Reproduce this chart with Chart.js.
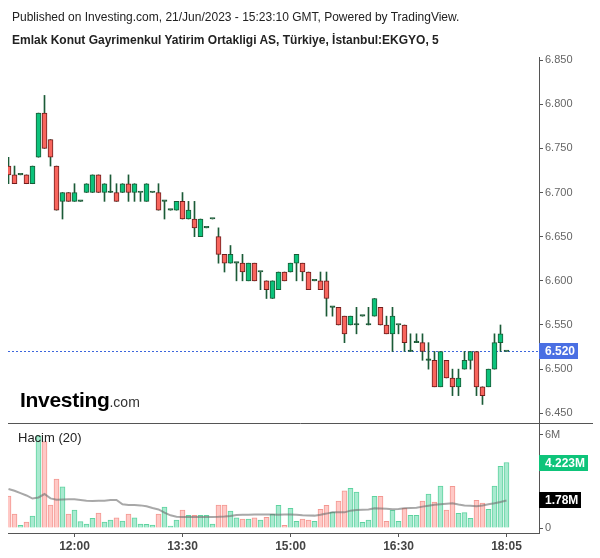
<!DOCTYPE html>
<html>
<head>
<meta charset="utf-8">
<script src="https://cdn.jsdelivr.net/npm/chart.js@4.4.0/dist/chart.umd.min.js"></script>
<style>
  body { margin: 0; background: #fff; }
  #wrap { position: relative; width: 600px; height: 558px; font-family: "Liberation Sans", Arial, sans-serif; color: #222; }
  #chart { position: absolute; left: 0; top: 0; }
  .txt { position: absolute; white-space: nowrap; line-height: 1.2; }
  #pub { left: 12px; top: 10px; font-size: 12px; }
  #title { left: 12px; top: 33px; font-size: 12px; font-weight: bold; }
  #logo { left: 20px; top: 387px; font-size: 21px; font-weight: bold; color: #000; letter-spacing: -0.3px; }
  #logo span { font-size: 14px; font-weight: normal; color: #333; letter-spacing: 0; }
  #volLabel { left: 18px; top: 430px; font-size: 13px; }
</style>
</head>
<body>
<div id="wrap">
  <canvas id="chart" width="600" height="558"></canvas>
  <div class="txt" id="pub">Published on Investing.com, 21/Jun/2023 - 15:23:10 GMT, Powered by TradingView.</div>
  <div class="txt" id="title">Emlak Konut Gayrimenkul Yatirim Ortakligi AS, Türkiye, İstanbul:EKGYO, 5</div>
  <div class="txt" id="logo">Investing<span>.com</span></div>
  <div class="txt" id="volLabel">Hacim (20)</div>
</div>
<script>
const family = '"Liberation Sans", Arial, sans-serif';
Chart.defaults.font.family = family;

// 5 minute candles, first one is 11:05
const opens = [6.73,6.72,6.72,6.72,6.71,6.74,6.79,6.76,6.73,6.69,6.70,6.69,6.69,6.70,6.70,6.72,6.70,6.70,6.70,6.70,
  6.71,6.70,6.70,6.69,6.70,6.70,6.69,6.68,6.68,6.69,6.67,6.67,6.65,6.66,6.67,6.65,6.63,6.62,6.62,6.62,
  6.60,6.62,6.61,6.60,6.58,6.59,6.61,6.61,6.62,6.62,6.61,6.60,6.60,6.60,6.57,6.57,6.56,6.55,6.55,6.56,
  6.55,6.56,6.57,6.55,6.54,6.55,6.55,6.52,6.53,6.53,6.51,6.51,6.48,6.51,6.49,6.48,6.50,6.51,6.52,6.48,
  6.48,6.50,6.53,6.52];
const highs = [6.74,6.73,6.72,6.72,6.73,6.79,6.81,6.76,6.73,6.70,6.70,6.71,6.69,6.71,6.72,6.72,6.71,6.72,6.71,6.71,
  6.72,6.71,6.70,6.71,6.70,6.71,6.69,6.68,6.69,6.70,6.69,6.69,6.67,6.66,6.67,6.66,6.63,6.64,6.62,6.63,
  6.62,6.62,6.61,6.60,6.60,6.61,6.61,6.62,6.63,6.62,6.61,6.60,6.61,6.61,6.57,6.57,6.56,6.56,6.57,6.56,
  6.57,6.58,6.57,6.56,6.57,6.55,6.55,6.54,6.54,6.54,6.53,6.52,6.52,6.51,6.50,6.50,6.52,6.52,6.52,6.48,
  6.50,6.54,6.55,6.52];
const lows = [6.71,6.71,6.72,6.71,6.71,6.74,6.75,6.73,6.68,6.67,6.69,6.69,6.69,6.70,6.70,6.70,6.69,6.70,6.69,6.70,
  6.69,6.69,6.69,6.69,6.70,6.68,6.67,6.68,6.68,6.67,6.67,6.65,6.65,6.66,6.67,6.62,6.61,6.62,6.60,6.60,
  6.60,6.60,6.59,6.58,6.58,6.59,6.60,6.61,6.60,6.60,6.59,6.60,6.59,6.56,6.56,6.55,6.53,6.55,6.54,6.56,
  6.55,6.56,6.55,6.54,6.52,6.54,6.52,6.52,6.53,6.51,6.50,6.48,6.48,6.49,6.47,6.47,6.50,6.50,6.47,6.46,
  6.48,6.50,6.52,6.52];
const closes = [6.72,6.71,6.72,6.71,6.73,6.79,6.75,6.74,6.68,6.70,6.69,6.70,6.69,6.71,6.72,6.70,6.71,6.70,6.69,6.71,
  6.70,6.71,6.70,6.71,6.70,6.68,6.69,6.68,6.69,6.67,6.68,6.66,6.67,6.66,6.67,6.63,6.62,6.63,6.62,6.61,
  6.62,6.60,6.61,6.59,6.60,6.61,6.60,6.62,6.63,6.61,6.59,6.60,6.59,6.58,6.57,6.55,6.54,6.56,6.55,6.56,
  6.55,6.58,6.55,6.54,6.56,6.55,6.53,6.52,6.53,6.52,6.51,6.48,6.52,6.49,6.48,6.49,6.51,6.52,6.48,6.47,
  6.50,6.53,6.54,6.52];
// volume in millions
const volumes = [2.06,0.90,0.17,0.39,0.77,5.94,5.57,1.48,3.16,2.65,0.90,1.16,0.41,0.26,0.62,0.97,0.39,0.52,0.65,0.45,
  0.90,0.65,0.26,0.24,0.19,0.90,1.35,0.13,0.52,1.16,0.82,0.82,0.82,0.82,0.26,1.48,1.48,1.10,0.65,0.58,
  0.58,0.65,0.52,0.69,0.88,1.46,0.17,1.27,0.43,0.58,0.52,0.43,1.20,1.46,1.01,1.74,2.39,2.56,2.32,0.37,
  0.52,2.04,2.04,0.43,1.14,0.43,1.27,0.82,0.82,1.74,2.19,1.68,2.71,1.16,2.69,0.95,0.99,0.62,1.78,1.61,
  1.20,2.71,3.98,4.223];
const volumeMA = [2.52,2.40,2.25,2.10,1.90,1.97,2.19,1.91,1.83,1.84,1.85,1.85,1.81,1.76,1.74,1.76,1.76,1.80,1.81,1.53,
  1.48,1.48,1.46,1.40,1.29,1.20,0.99,0.82,0.73,0.71,0.71,0.71,0.71,0.71,0.71,0.72,0.74,0.77,0.84,0.86,
  0.86,0.87,0.88,0.88,0.88,0.86,0.87,0.88,0.85,0.82,0.81,0.80,0.86,0.93,1.01,1.01,1.01,1.12,1.16,1.18,
  1.20,1.27,1.26,1.25,1.21,1.23,1.27,1.29,1.31,1.38,1.44,1.50,1.54,1.57,1.59,1.52,1.46,1.43,1.40,1.45,
  1.53,1.60,1.68,1.78];

const tickIndex = [11, 29, 47, 65, 83];
const tickText = ['12:00', '13:30', '15:00', '16:30', '18:05'];
const priceTicks = [6.45, 6.50, 6.55, 6.60, 6.65, 6.70, 6.75, 6.80, 6.85];
const volTicks = [0, 6];

const lastPrice = closes[closes.length - 1];
const lastVolume = volumes[volumes.length - 1];
const lastMA = volumeMA[volumeMA.length - 1];

const upFill = '#0cc27b', upEdge = '#1b5b37';
const downFill = '#f8655d', downEdge = '#701d1d';
const wickColor = '#1b5b37';

const bodyFill = closes.map((c, i) => c > opens[i] ? upFill : c < opens[i] ? downFill : wickColor);
const bodyEdge = closes.map((c, i) => c > opens[i] ? upEdge : c < opens[i] ? downEdge : wickColor);
const volUp = closes.map((c, i) => c >= opens[i]);

const paneLines = {
  id: 'paneLines',
  beforeDatasetsDraw(chart) {
    const {ctx, chartArea, scales} = chart;
    const y = Math.round(scales.y.getPixelForValue(lastPrice)) + 0.5;
    ctx.save();
    ctx.strokeStyle = '#3c66dd';
    ctx.lineWidth = 1;
    ctx.setLineDash([2, 2]);
    ctx.beginPath();
    ctx.moveTo(chartArea.left, y);
    ctx.lineTo(chartArea.right, y);
    ctx.stroke();
    ctx.restore();
  },
  afterDraw(chart) {
    const {ctx, chartArea, scales} = chart;
    ctx.save();
    // pane separator
    const sy = Math.round(scales.y.bottom) + 0.5;
    ctx.strokeStyle = '#555';
    ctx.lineWidth = 1;
    ctx.beginPath();
    ctx.moveTo(chartArea.left, sy);
    ctx.lineTo(593, sy);
    ctx.stroke();
    // last value badges
    const badge = (y, w, text, bg) => {
      y = Math.round(y);
      ctx.fillStyle = bg;
      ctx.fillRect(chartArea.right, y - 8, w, 16);
      ctx.fillStyle = '#fff';
      ctx.font = 'bold 12px ' + family;
      ctx.textBaseline = 'middle';
      ctx.textAlign = 'left';
      ctx.fillText(text, chartArea.right + 6, y + 1);
    };
    badge(scales.y.getPixelForValue(lastPrice), 39, lastPrice.toFixed(3), '#4a6fe3');
    badge(scales.yv.getPixelForValue(lastVolume), 49, lastVolume.toFixed(3) + 'M', '#0ec47a');
    badge(scales.yv.getPixelForValue(lastMA), 42, lastMA.toFixed(2) + 'M', '#000');
    ctx.restore();
  }
};

new Chart(document.getElementById('chart'), {
  type: 'bar',
  data: {
    datasets: [
      {
        label: 'body',
        data: opens.map((o, i) => ({x: i, y: [o, closes[i]]})),
        yAxisID: 'y',
        backgroundColor: bodyFill,
        borderColor: bodyEdge,
        borderWidth: 1,
        borderSkipped: false,
        barThickness: 5,
        minBarLength: 1.5,
        grouped: false,
        order: 0
      },
      {
        label: 'wick',
        data: highs.map((h, i) => ({x: i, y: [lows[i], h]})),
        yAxisID: 'y',
        backgroundColor: wickColor,
        borderWidth: 0,
        barThickness: 1,
        grouped: false,
        order: 1
      },
      {
        type: 'line',
        label: 'ma',
        data: volumeMA.map((v, i) => ({x: i, y: v})),
        yAxisID: 'yv',
        borderColor: 'rgba(110,110,110,0.6)',
        borderWidth: 2,
        pointRadius: 0,
        tension: 0,
        order: 2
      },
      {
        label: 'volume',
        data: volumes.map((v, i) => ({x: i, y: v})),
        yAxisID: 'yv',
        backgroundColor: volUp.map(u => u ? '#a9ead0' : '#ffc9c6'),
        borderColor: volUp.map(u => u ? '#5fd3a0' : '#f39892'),
        borderWidth: {top: 1, left: 1, right: 1, bottom: 0},
        borderSkipped: false,
        barThickness: 5,
        grouped: false,
        order: 3
      }
    ]
  },
  options: {
    responsive: false,
    animation: false,
    layout: {padding: {left: 8, top: 57, right: 0, bottom: 0}},
    plugins: {legend: {display: false}, tooltip: {enabled: false}},
    scales: {
      x: {
        type: 'linear',
        min: -0.083,
        max: 88.42,
        offset: false,
        position: 'bottom',
        grid: {drawOnChartArea: false, offset: false, tickLength: 4, color: '#555'},
        border: {color: '#555'},
        ticks: {
          autoSkip: false, maxRotation: 0, padding: 2, color: '#444',
          font: {size: 12, weight: 'bold'},
          callback: v => tickText[tickIndex.indexOf(v)]
        },
        afterBuildTicks: s => { s.ticks = tickIndex.map(v => ({value: v})); },
        afterFit: s => { s.height = 25; }
      },
      y: {
        position: 'right',
        stack: 'pane',
        stackWeight: 366,
        min: 6.439,
        max: 6.8535,
        grid: {drawOnChartArea: false, tickLength: 4, color: '#555'},
        border: {color: '#555'},
        ticks: {padding: 2, color: '#666', font: {size: 11}, callback: v => v.toFixed(3)},
        afterBuildTicks: s => { s.ticks = priceTicks.map(v => ({value: v})); },
        afterFit: s => { s.width = 61; }
      },
      yv: {
        position: 'right',
        stack: 'pane',
        stackWeight: 110,
        min: -0.32,
        max: 6.77,
        grid: {drawOnChartArea: false, tickLength: 4, color: '#555'},
        border: {color: '#555'},
        ticks: {padding: 2, color: '#666', font: {size: 11}, callback: v => v === 0 ? '0' : v + 'M'},
        afterBuildTicks: s => { s.ticks = volTicks.map(v => ({value: v})); },
        afterFit: s => { s.width = 61; }
      }
    }
  },
  plugins: [paneLines]
});
</script>
</body>
</html>
